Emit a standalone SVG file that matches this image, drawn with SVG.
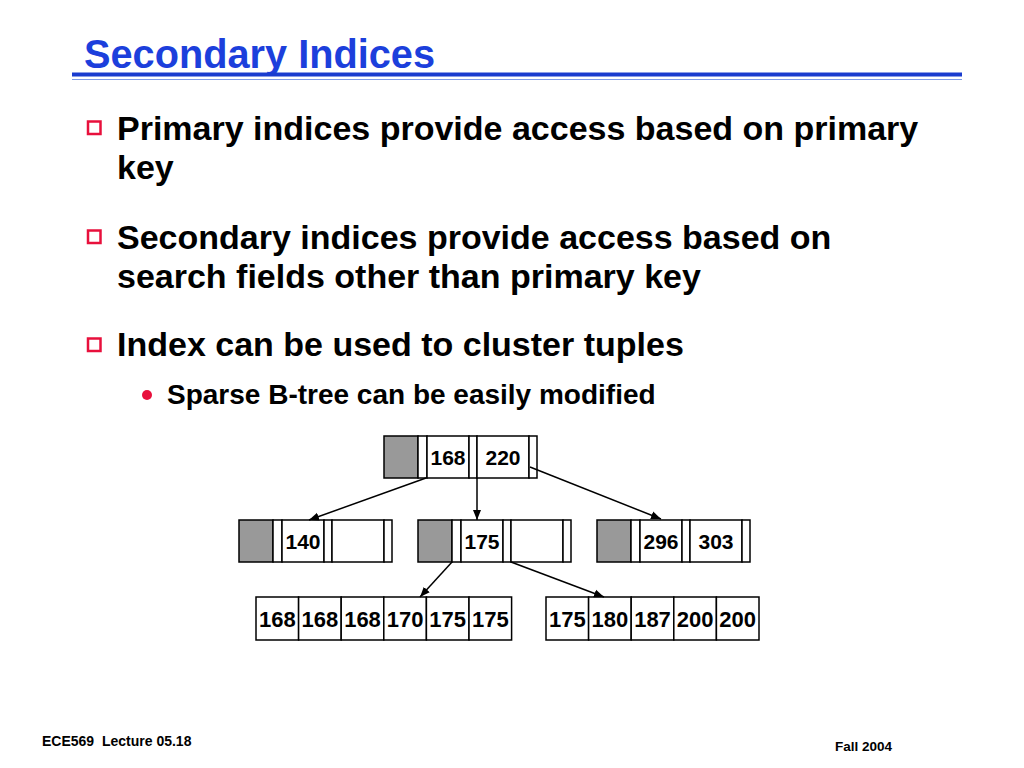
<svg xmlns="http://www.w3.org/2000/svg" width="1024" height="768" viewBox="0 0 1024 768">
<defs>
<style>
.title{font-family:"Liberation Sans Narrow","Liberation Sans",Arial,sans-serif;font-weight:bold;font-size:41px;fill:#1c3fdc}
.b1{font-family:"Liberation Sans",Arial,sans-serif;font-weight:bold;font-size:34px;fill:#000}
.b2{font-family:"Liberation Sans",Arial,sans-serif;font-weight:bold;font-size:28px;fill:#000}
.foot{font-family:"Liberation Sans",Arial,sans-serif;font-weight:bold;font-size:14px;fill:#000}
.k{font-family:"Liberation Sans",Arial,sans-serif;font-weight:bold;font-size:21px;fill:#000;text-anchor:middle}
.kl{font-family:"Liberation Sans",Arial,sans-serif;font-weight:bold;font-size:22px;fill:#000;text-anchor:middle}
.cell{fill:#fff;stroke:#000;stroke-width:1.5}
.gray{fill:#999;stroke:#000;stroke-width:1.5}
.sq{fill:#fff;stroke:#e8103c;stroke-width:2.5}
.conn{stroke:#000;stroke-width:1.5;fill:none;marker-end:url(#ah)}
</style>
<marker id="ah" viewBox="0 0 10 10" refX="10" refY="5" markerWidth="10" markerHeight="10" markerUnits="userSpaceOnUse" orient="auto">
<path d="M0,1 L10,5 L0,9 z" fill="#000"/>
</marker>
<g id="tnode">
<rect class="gray" x="0" y="0" width="34" height="42"/>
<rect class="cell" x="34" y="0" width="9" height="42"/>
<rect class="cell" x="43" y="0" width="42" height="42"/>
<rect class="cell" x="85" y="0" width="8" height="42"/>
<rect class="cell" x="93" y="0" width="52" height="42"/>
<rect class="cell" x="145" y="0" width="8" height="42"/>
</g>
</defs>
<rect width="1024" height="768" fill="#fff"/>

<g id="title">
<text class="title" x="84" y="68" textLength="351" lengthAdjust="spacingAndGlyphs">Secondary Indices</text>
<rect x="72" y="72.5" width="890" height="4" fill="#1a3ccf"/>
<line x1="72" y1="79.5" x2="962" y2="79.5" stroke="#7f9be8" stroke-width="1.2"/>
</g>

<g id="bullets">
<rect class="sq" x="88" y="121.5" width="12.5" height="12.5"/>
<text class="b1" x="117" y="140">Primary indices provide access based on primary</text>
<text class="b1" x="117" y="179">key</text>
<rect class="sq" x="88" y="230.5" width="12.5" height="12.5"/>
<text class="b1" x="117" y="249">Secondary indices provide access based on</text>
<text class="b1" x="117" y="288">search fields other than primary key</text>
<rect class="sq" x="88" y="338.5" width="12.5" height="12.5"/>
<text class="b1" x="117" y="356">Index can be used to cluster tuples</text>
<circle cx="147" cy="395" r="5" fill="#e8103c"/>
<text class="b2" x="167" y="404">Sparse B-tree can be easily modified</text>
</g>

<g id="root">
<use href="#tnode" x="384" y="436"/>
<text class="k" x="448" y="465">168</text>
<text class="k" x="503" y="465">220</text>
</g>
<g id="n140">
<use href="#tnode" x="239" y="520"/>
<text class="k" x="303" y="549">140</text>
</g>
<g id="n175">
<use href="#tnode" x="418" y="520"/>
<text class="k" x="482" y="549">175</text>
</g>
<g id="n296">
<use href="#tnode" x="597" y="520"/>
<text class="k" x="661" y="549">296</text>
<text class="k" x="716" y="549">303</text>
</g>

<g id="leafL">
<rect class="cell" x="256" y="597" width="42.6" height="43"/>
<rect class="cell" x="298.6" y="597" width="42.6" height="43"/>
<rect class="cell" x="341.2" y="597" width="42.6" height="43"/>
<rect class="cell" x="383.8" y="597" width="42.6" height="43"/>
<rect class="cell" x="426.4" y="597" width="42.6" height="43"/>
<rect class="cell" x="469" y="597" width="42.6" height="43"/>
<text class="kl" x="277.3" y="627">168</text>
<text class="kl" x="319.9" y="627">168</text>
<text class="kl" x="362.5" y="627">168</text>
<text class="kl" x="405.1" y="627">170</text>
<text class="kl" x="447.7" y="627">175</text>
<text class="kl" x="490.3" y="627">175</text>
</g>
<g id="leafR">
<rect class="cell" x="546" y="597" width="42.6" height="43"/>
<rect class="cell" x="588.6" y="597" width="42.6" height="43"/>
<rect class="cell" x="631.2" y="597" width="42.6" height="43"/>
<rect class="cell" x="673.8" y="597" width="42.6" height="43"/>
<rect class="cell" x="716.4" y="597" width="42.6" height="43"/>
<text class="kl" x="567.3" y="627">175</text>
<text class="kl" x="609.9" y="627">180</text>
<text class="kl" x="652.5" y="627">187</text>
<text class="kl" x="695.1" y="627">200</text>
<text class="kl" x="737.7" y="627">200</text>
</g>

<g id="connectors">
<line class="conn" x1="426" y1="478" x2="309" y2="520"/>
<line class="conn" x1="477" y1="478" x2="477" y2="520"/>
<line class="conn" x1="530" y1="467" x2="661" y2="519"/>
<line class="conn" x1="452" y1="562" x2="420" y2="597"/>
<line class="conn" x1="511" y1="562" x2="604" y2="597"/>
</g>

<g id="footer">
<text class="foot" x="42" y="746" xml:space="preserve">ECE569  Lecture 05.18</text>
<text class="foot" x="835" y="751" style="font-size:13.5px">Fall 2004</text>
</g>
</svg>
